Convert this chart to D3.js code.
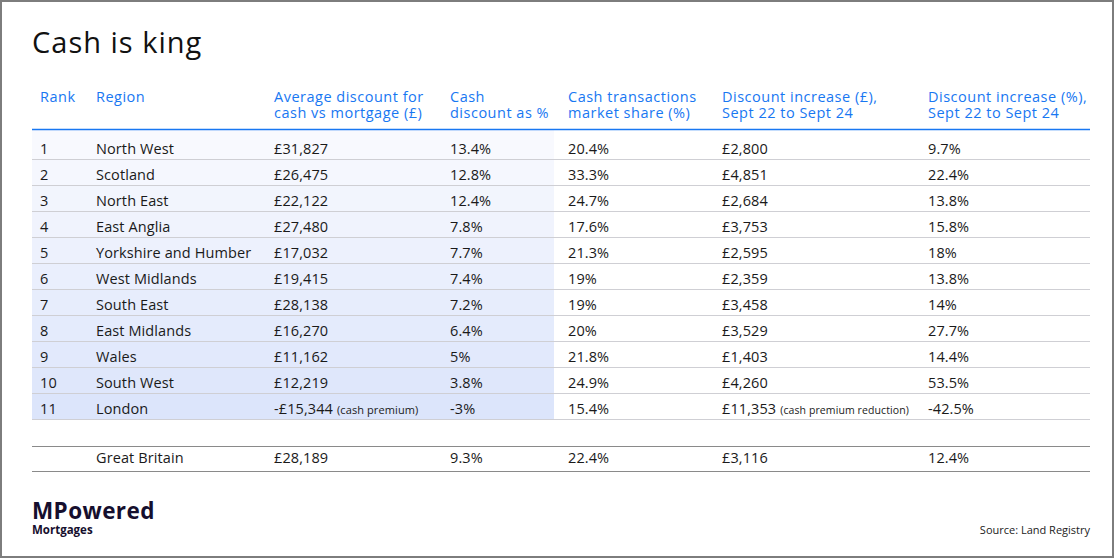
<!DOCTYPE html>
<html>
<head>
<meta charset="utf-8">
<script src="https://cdn.jsdelivr.net/npm/d3@7"></script>
<style>
  html, body { margin: 0; padding: 0; background: #fff; }
  svg { display: block; font-family: "Open Sans", "Noto Sans", sans-serif; }
</style>
</head>
<body>
<svg id="chart" width="1114" height="558"></svg>
<script>
// ---- data ----
const title = "Cash is king";
const headers = [
  ["Rank"],
  ["Region"],
  ["Average discount for", "cash vs mortgage (£)"],
  ["Cash", "discount as %"],
  ["Cash transactions", "market share (%)"],
  ["Discount increase (£),", "Sept 22 to Sept 24"],
  ["Discount increase (%),", "Sept 22 to Sept 24"]
];
const ranks = [1, 2, 3, 4, 5, 6, 7, 8, 9, 10, 11];
const regions = ["North West", "Scotland", "North East", "East Anglia", "Yorkshire and Humber",
  "West Midlands", "South East", "East Midlands", "Wales", "South West", "London"];
const avgDiscount = [31827, 26475, 22122, 27480, 17032, 19415, 28138, 16270, 11162, 12219, -15344];
const cashDiscountPct = [13.4, 12.8, 12.4, 7.8, 7.7, 7.4, 7.2, 6.4, 5, 3.8, -3];
const marketShare = [20.4, 33.3, 24.7, 17.6, 21.3, 19, 19, 20, 21.8, 24.9, 15.4];
const increaseGBP = [2800, 4851, 2684, 3753, 2595, 2359, 3458, 3529, 1403, 4260, 11353];
const increasePct = [9.7, 22.4, 13.8, 15.8, 18, 13.8, 14, 27.7, 14.4, 53.5, -42.5];
const avgDiscountNote = ["", "", "", "", "", "", "", "", "", "", "(cash premium)"];
const increaseNote = ["", "", "", "", "", "", "", "", "", "", "(cash premium reduction)"];
const total = { region: "Great Britain", avgDiscount: 28189, cashDiscountPct: 9.3, marketShare: 22.4, increaseGBP: 3116, increasePct: 12.4 };
const source = "Source: Land Registry";
const brand = "MPowered";
const brandSub = "Mortgages";

// ---- layout ----
const W = 1114, H = 558;
const left = 32, right = 1090;
const colX = [40, 96, 274, 450, 568, 722, 928];
const blue = "#1877f2";
const ink = "#1a1a1a";

const svg = d3.select("#chart");

svg.append("rect").attr("x", 1).attr("y", 1).attr("width", W - 2).attr("height", H - 2)
  .attr("fill", "#fff").attr("stroke", "#7d7d7d").attr("stroke-width", 2);

svg.append("text").attr("x", left).attr("y", 53).attr("font-size", 29)
  .attr("letter-spacing", 1).attr("fill", "#111").text(title);

// header
const hdr = svg.append("g").attr("fill", blue).attr("font-size", 14.5).attr("letter-spacing", 0.5);
headers.forEach((lines, i) => {
  const t = hdr.append("text").attr("x", colX[i]).attr("y", 102);
  lines.forEach((l, j) => t.append("tspan").attr("x", colX[i]).attr("y", 102 + j * 16).text(l));
});

// row scale
const headerLineY = 129.5;
const firstRowH = 30, rowH = 26;
const rowTop = i => i === 0 ? headerLineY : headerLineY + firstRowH + (i - 1) * rowH;
const rowBottom = i => headerLineY + firstRowH + i * rowH;

// gradient band (first four columns)
const shade = d3.scaleLinear().domain([0, ranks.length - 1]).range(["#f8f9fe", "#dce5fb"]);
svg.append("g").selectAll("rect").data(ranks).join("rect")
  .attr("x", left).attr("width", 554 - left)
  .attr("y", (d, i) => rowTop(i)).attr("height", (d, i) => rowBottom(i) - rowTop(i))
  .attr("fill", (d, i) => shade(i));

// row separators
svg.append("g").selectAll("line").data(ranks).join("line")
  .attr("x1", left).attr("x2", right)
  .attr("y1", (d, i) => rowBottom(i)).attr("y2", (d, i) => rowBottom(i))
  .attr("stroke", "#cfcfd4").attr("stroke-width", 1);

// header line
svg.append("line").attr("x1", left).attr("x2", right).attr("y1", headerLineY).attr("y2", headerLineY)
  .attr("stroke", blue).attr("stroke-width", 1.5);

const gbp = v => (v < 0 ? "-" : "") + "£" + d3.format(",")(Math.abs(v));
const pct = v => (v < 0 ? "-" : "") + Math.abs(v) + "%";

const body = svg.append("g").attr("font-size", 14.5).attr("fill", ink).attr("letter-spacing", 0.1);
ranks.forEach((r, i) => {
  const y = rowBottom(i) - 6;
  const cells = [String(r), regions[i], gbp(avgDiscount[i]), pct(cashDiscountPct[i]),
    pct(marketShare[i]), gbp(increaseGBP[i]), pct(increasePct[i])];
  cells.forEach((c, k) => {
    const t = body.append("text").attr("x", colX[k]).attr("y", y).text(c);
    if (k === 2 && avgDiscountNote[i]) t.append("tspan").attr("font-size", 11).attr("dx", 4).text(avgDiscountNote[i]);
    if (k === 5 && increaseNote[i]) t.append("tspan").attr("font-size", 10.5).attr("dx", 4).text(increaseNote[i]);
  });
});

// total row
const totTop = 446.5, totBot = 471.5;
[totTop, totBot].forEach(y => svg.append("line").attr("x1", left).attr("x2", right)
  .attr("y1", y).attr("y2", y).attr("stroke", "#8a8a8a").attr("stroke-width", 1.2));
const totCells = ["", total.region, gbp(total.avgDiscount), pct(total.cashDiscountPct),
  pct(total.marketShare), gbp(total.increaseGBP), pct(total.increasePct)];
totCells.forEach((c, k) => body.append("text").attr("x", colX[k]).attr("y", totBot - 8.5).text(c));

// brand
svg.append("text").attr("x", left).attr("y", 519).attr("font-size", 22.5).attr("font-weight", 700)
  .attr("fill", "#160f2e").attr("letter-spacing", 0.4).text(brand);
svg.append("text").attr("x", left).attr("y", 534).attr("font-size", 11.5).attr("font-weight", 700)
  .attr("fill", "#160f2e").text(brandSub);

svg.append("text").attr("x", right).attr("y", 534).attr("text-anchor", "end")
  .attr("font-size", 11).attr("fill", "#222").text(source);
</script>
</body>
</html>
